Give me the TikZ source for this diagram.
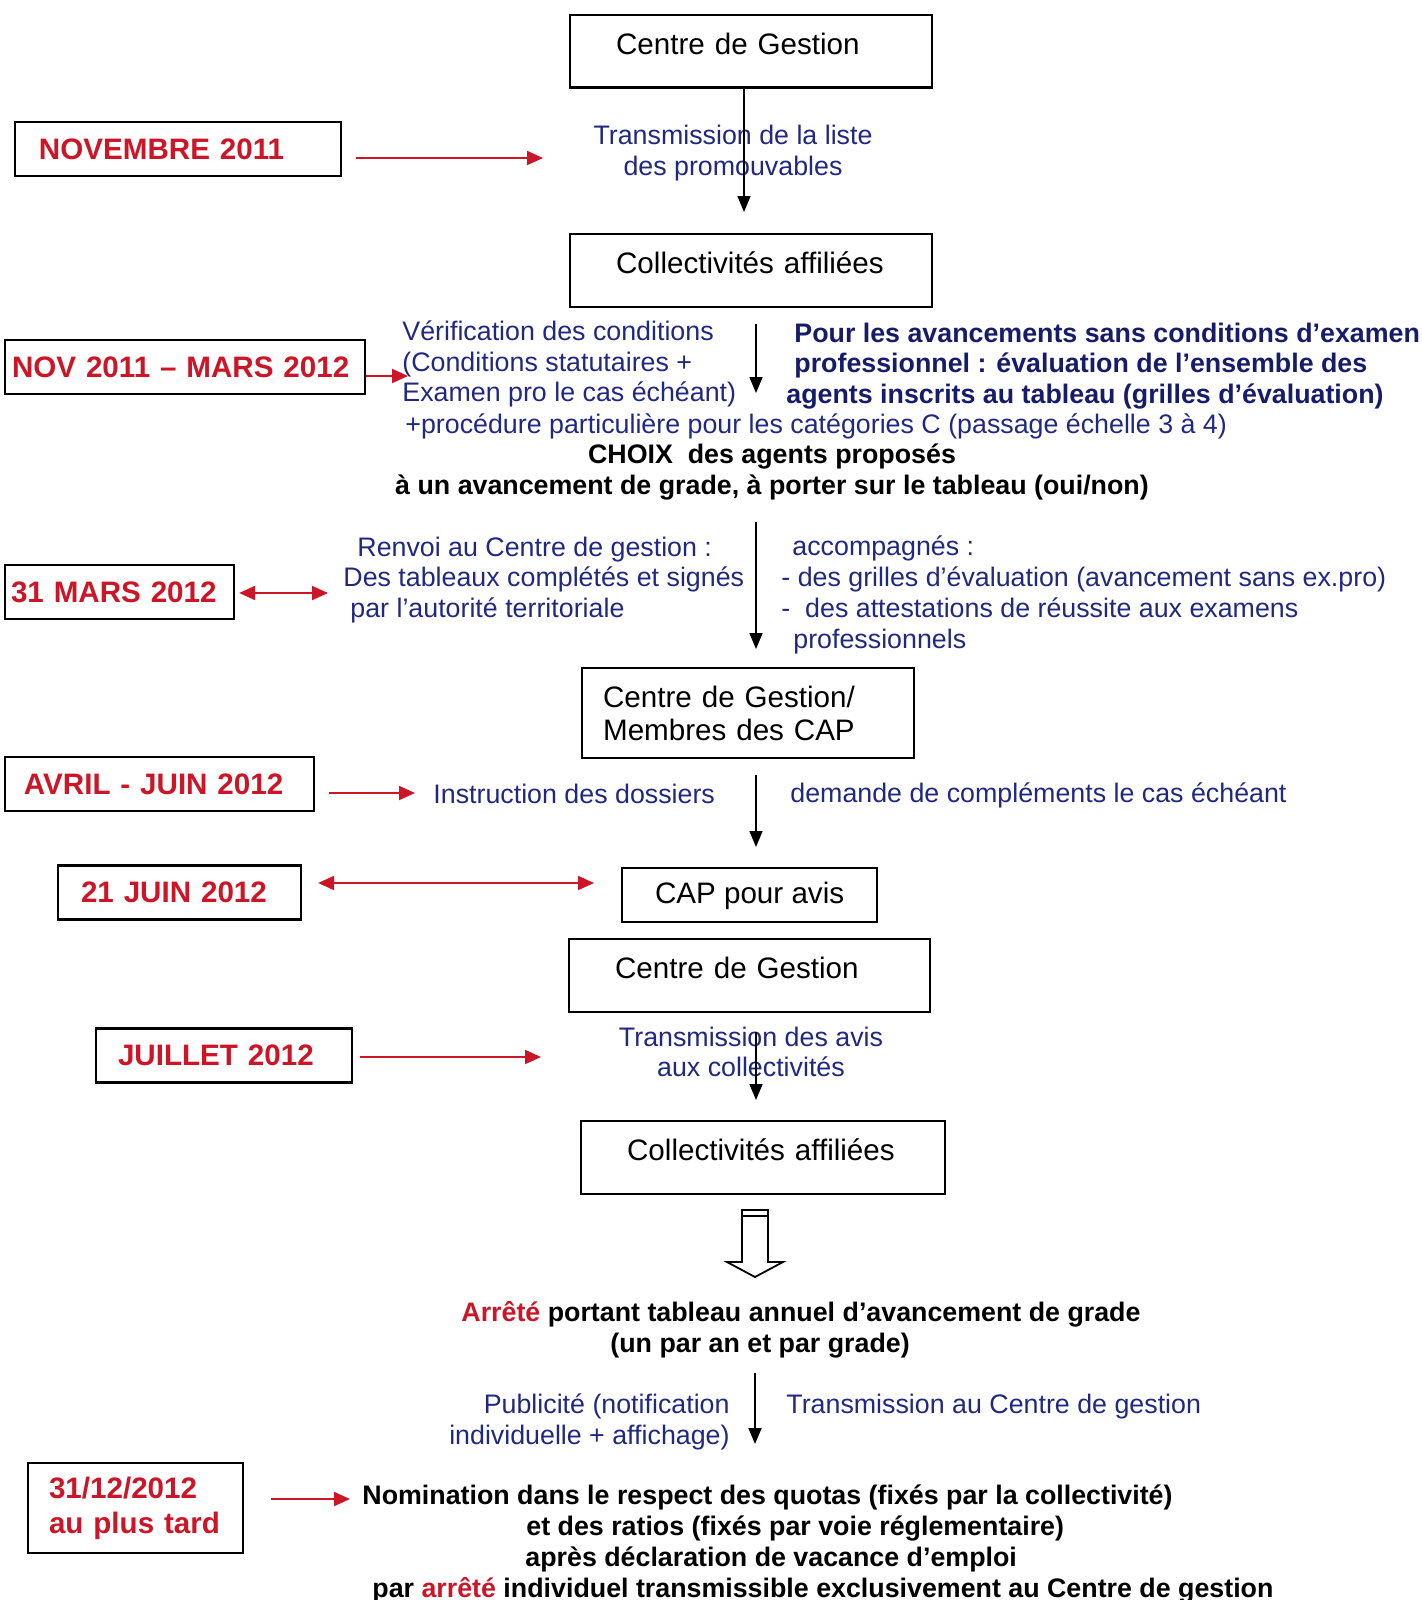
\documentclass[tikz,border=0pt]{standalone}
\usepackage{fontspec}
\setmainfont{Liberation Sans}
\usetikzlibrary{arrows.meta}
\definecolor{cdgred}{RGB}{204,22,40}
\definecolor{cdgblue}{RGB}{32,40,128}
\definecolor{cdgnavy}{RGB}{22,28,105}

\begin{document}
\begin{tikzpicture}[x=0.5pt,y=-0.5pt,
  boxline/.style={draw,line width=1.1pt,font=\fontsize{14.8}{16.5}\selectfont},
  stepbox/.style={boxline,anchor=north west,align=left,inner xsep=23pt,inner ysep=0pt,
    text height=19.75pt,text depth=16.5pt},
  datebox/.style={draw,line width=1.1pt,minimum height=27pt,inner ysep=0pt,align=left,text=cdgred,
    font=\bfseries\fontsize{14.8}{17.5}\selectfont},
  bluetext/.style={text=cdgblue,inner sep=0pt,font=\fontsize{13.4}{15.4}\selectfont},
  boldtext/.style={inner sep=0pt,font=\bfseries\fontsize{13.4}{15.4}\selectfont},
  flow/.style={-{Triangle[length=8pt,width=6.5pt]},line width=0.8pt},
  redflow/.style={-{Triangle[length=8pt,width=7pt]},cdgred,line width=1pt},
  redboth/.style={{Triangle[length=8pt,width=7pt]}-{Triangle[length=8pt,width=7pt]},cdgred,line width=1pt}]
  \useasboundingbox (0,0) rectangle (1421,1600);

  % boxes of the procedure
  \node[stepbox,text width=135pt] (b1) at (569,14) {Centre de Gestion};
  \node[stepbox,text width=135pt] (b2) at (569,233) {Collectivités affiliées};
  \node[boxline,anchor=north west,align=left,inner xsep=10.5pt,text width=145pt,minimum height=45pt] (b3) at (581,667) {Centre de Gestion/\\Membres des CAP};
  \node[boxline,anchor=north west,minimum width=127.5pt,minimum height=27pt,text depth=2pt] (b4) at (621,867) {CAP pour avis};
  \node[stepbox,text width=134.5pt] (b5) at (568,938) {Centre de Gestion};
  \node[stepbox,text width=136pt] (b6) at (580,1120) {Collectivités affiliées};

  % dates
  \node[datebox,inner xsep=12pt,text width=139pt] (d1) at (178,149) {NOVEMBRE 2011};
  \node[datebox,inner xsep=3.5pt,text width=173pt] (d2) at (185,367) {NOV 2011 – MARS 2012};
  \node[datebox,inner xsep=3pt,text width=108.5pt] (d3) at (119.5,592) {31 MARS 2012};
  \node[datebox,inner xsep=9.5pt,text width=135.5pt] (d4) at (159.5,784) {AVRIL - JUIN 2012};
  \node[datebox,inner xsep=11.5pt,text width=98.5pt] (d5) at (179.5,892.5) {21 JUIN 2012};
  \node[datebox,inner xsep=11pt,text width=106pt] (d6) at (224,1055.5) {JUILLET 2012};
  \node[datebox,inner xsep=10.5pt,text width=86.5pt,minimum height=45pt] (d7) at (135.5,1508) {31/12/2012\\au plus tard};

  % texts
  \node[bluetext,align=center] (t1) at (733,153) {Transmission de la liste\\des promouvables};
  \node[bluetext,align=left,anchor=west] (t2) at (402,364) {Vérification des conditions\\(Conditions statutaires +\\Examen pro le cas échéant)};
  \node[boldtext,text=cdgnavy,align=left,anchor=west] (t3) at (786,366) {\hspace*{4pt}Pour les avancements sans conditions d’examen\\\hspace*{4pt}professionnel : évaluation de l’ensemble des\\agents inscrits au tableau (grilles d’évaluation)};
  \node[bluetext,anchor=west] (t4) at (405,426) {+procédure particulière pour les catégories C (passage échelle 3 à 4)};
  \node[boldtext,align=center] (t5) at (772,472) {CHOIX\ \ des agents proposés\\à un avancement de grade, à porter sur le tableau (oui/non)};
  \node[bluetext,align=left,anchor=west] (t6) at (343,580) {\hspace*{7pt}Renvoi au Centre de gestion :\\Des tableaux complétés et signés\\\hspace*{3.5pt}par l’autorité territoriale};
  \node[bluetext,align=left,anchor=west] (t7) at (781,595) {\hspace*{5.5pt}accompagnés :\\- des grilles d’évaluation (avancement sans ex.pro)\\-\ \ des attestations de réussite aux examens\\\hspace*{6pt}professionnels};
  \node[bluetext,anchor=west] (t8) at (433,794) {Instruction des dossiers};
  \node[bluetext,anchor=west] (t9) at (790,795) {demande de compléments le cas échéant};
  \node[bluetext,align=center] (t10) at (751,1052) {Transmission des avis\\aux collectivités};
  \node[boldtext,align=left,anchor=west] (t11) at (461,1330) {\textcolor{cdgred}{Arrêté} portant tableau annuel d’avancement de grade\\\hspace*{74.5pt}(un par an et par grade)};
  \node[bluetext,align=right,anchor=east] (t12) at (730,1422) {Publicité (notification\\individuelle + affichage)};
  \node[bluetext,anchor=west] (t13) at (786,1407) {Transmission au Centre de gestion};
  \node[boldtext,align=left,anchor=west] (t14) at (362,1544) {Nomination dans le respect des quotas (fixés par la collectivité)\\\hspace*{82pt}et des ratios (fixés par voie réglementaire)\\\hspace*{81.5pt}après déclaration de vacance d’emploi\\\hspace*{5pt}par \textcolor{cdgred}{arrêté} individuel transmissible exclusivement au Centre de gestion};

  % black arrows
  \coordinate (a1) at (744,212);
  \coordinate (a2s) at (756,324);  \coordinate (a2e) at (756,393);
  \coordinate (a3s) at (756,522);  \coordinate (a3e) at (756,649);
  \coordinate (a4s) at (756,775);  \coordinate (a4e) at (756,847);
  \coordinate (a5s) at (756,1032); \coordinate (a5e) at (756,1100);
  \coordinate (a6s) at (755,1373); \coordinate (a6e) at (755,1444);
  \draw[flow] (b1.south -| a1) -- (a1);
  \draw[flow] (a2s) -- (a2e);
  \draw[flow] (a3s) -- (a3e);
  \draw[flow] (a4s) -- (a4e);
  \draw[flow] (a5s) -- (a5e);
  \draw[flow] (a6s) -- (a6e);

  % red arrows
  \coordinate (r1) at (543,158);
  \coordinate (r2) at (408,376);
  \coordinate (r3) at (328,593);
  \coordinate (r4) at (415,793);
  \coordinate (r5) at (594,883);
  \coordinate (r6) at (541,1057);
  \coordinate (r7) at (350,1499);
  \draw[redflow,shorten <=7pt] (d1.east |- r1) -- (r1);
  \draw[redflow] (d2.east |- r2) -- (r2);
  \draw[redboth,shorten <=2pt] (d3.east |- r3) -- (r3);
  \draw[redflow,shorten <=7pt] (d4.east |- r4) -- (r4);
  \draw[redboth,shorten <=8pt] (d5.east |- r5) -- (r5);
  \draw[redflow,shorten <=3.5pt] (d6.east |- r6) -- (r6);
  \draw[redflow,shorten <=13.5pt] (d7.east |- r7) -- (r7);

  % hollow arrow
  \draw[line width=0.9pt,line join=miter] (742,1210) -- (768,1210) -- (768,1262) -- (783,1262)
    -- (755,1277) -- (727,1262) -- (742,1262) -- cycle;
  \draw[line width=1.2pt] (742,1216) -- (768,1216);
\end{tikzpicture}
\end{document}
